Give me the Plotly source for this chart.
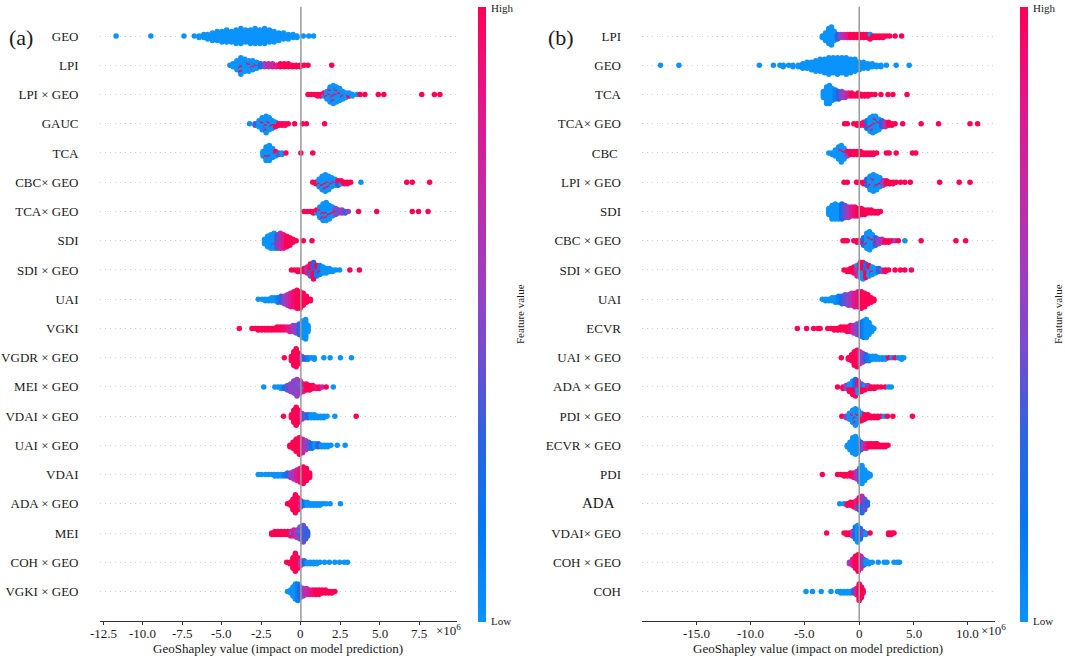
import plotly.graph_objects as go

# ---------------------------------------------------------------------------
# Data: each row is a list of (shap value [x1e6], number
# of stacked dots at that value, feature value 0=low .. 1=high)
# ---------------------------------------------------------------------------
labels_a = ["GEO", "LPI", "LPI × GEO", "GAUC", "TCA", "CBC× GEO", "TCA× GEO",
            "SDI", "SDI × GEO", "UAI", "VGKI", "VGDR × GEO", "MEI × GEO",
            "VDAI × GEO", "UAI × GEO", "VDAI", "ADA × GEO", "MEI", "COH × GEO",
            "VGKI × GEO"]

a_geo = [(-11.7, 1, 0), (-9.5, 1, 0), (-7.4, 1, 0), (-6.75, 1, 0), (-6.45, 2, 0), (-6.15, 3, 0),
         (-5.9, 4, 0), (-5.6, 6, 0), (-5.3, 7, 0), (-5.0, 8, 0), (-4.7, 9, 0), (-4.4, 8, 0),
         (-4.1, 10, 0), (-3.8, 11, 0), (-3.5, 9, 0), (-3.2, 10, 0), (-2.9, 11, 0), (-2.6, 10, 0),
         (-2.3, 11, 0), (-2.0, 9, 0), (-1.7, 8, 0), (-1.4, 6, 0), (-1.1, 5, 0), (-0.8, 4, 0),
         (-0.5, 3, 0), (-0.25, 2, 0), (0.15, 1, 0), (0.5, 1, 0), (0.8, 1, 0)]
a_lpi = [(-4.5, 1, 0), (-4.3, 3, 0), (-4.05, 7, 0), (-3.8, 10, 0), (-3.8, 2, 1), (-3.55, 9, 0),
         (-3.3, 7, 0), (-3.3, 1, 1), (-3.05, 6, 0), (-3.05, 1, 0.9), (-2.8, 4, 0), (-2.8, 1, 1),
         (-2.55, 3, 0.2), (-2.3, 3, 0.5), (-2.05, 3, 0.7), (-1.8, 3, 0.75), (-1.55, 2, 0.85),
         (-1.3, 3, 1), (-1.05, 3, 1), (-0.8, 3, 1), (-0.55, 2, 1), (-0.3, 2, 1), (-0.05, 2, 1),
         (0.2, 1, 1), (0.45, 1, 1), (1.95, 1, 1)]
a_lpi_geo = [(0.45, 1, 1), (0.65, 1, 1), (0.85, 1, 1), (1.05, 2, 1), (1.25, 2, 1), (1.45, 2, 0.9),
             (1.45, 1, 0), (1.65, 5, 0), (1.65, 1, 1), (1.85, 9, 0), (1.85, 2, 1), (2.05, 11, 0),
             (2.05, 2, 1), (2.25, 9, 0), (2.25, 2, 1), (2.45, 8, 0), (2.45, 1, 1), (2.65, 5, 0),
             (2.65, 1, 1), (2.85, 4, 0), (3.05, 2, 0), (3.05, 1, 1), (3.25, 2, 0), (3.55, 1, 0),
             (3.75, 1, 1), (4.05, 1, 1), (4.9, 1, 1), (5.25, 1, 1), (7.65, 1, 1), (8.45, 1, 1),
             (8.8, 1, 1)]
a_gauc = [(-3.25, 1, 0), (-2.9, 2, 0.35), (-2.65, 5, 0), (-2.45, 8, 0), (-2.45, 1, 1),
          (-2.2, 10, 0), (-2.2, 2, 1), (-2.0, 8, 0), (-2.0, 1, 1), (-1.8, 5, 0), (-1.8, 1, 1),
          (-1.6, 2, 0), (-1.6, 2, 1), (-1.4, 2, 1), (-1.2, 2, 1), (-1.0, 2, 1), (-0.8, 1, 1),
          (-0.4, 1, 1), (0.1, 1, 1), (0.35, 1, 1), (1.5, 1, 1)]
a_tca = [(-2.4, 4, 0), (-2.2, 9, 0), (-2.2, 1, 1), (-2.0, 10, 0), (-2.0, 1, 1), (-1.8, 7, 0),
         (-1.6, 3, 0), (-1.6, 1, 1), (-1.4, 2, 0.4), (-1.2, 2, 0), (-0.95, 1, 1), (0.0, 1, 1),
         (0.75, 1, 1)]
a_cbc_geo = [(0.75, 1, 1), (0.95, 2, 1), (1.15, 5, 0), (1.15, 1, 1), (1.35, 9, 0), (1.35, 1, 1),
             (1.55, 10, 0), (1.55, 2, 1), (1.75, 8, 0), (1.75, 2, 1), (1.95, 6, 0), (1.95, 1, 1),
             (2.15, 4, 0), (2.15, 1, 1), (2.35, 3, 0.3), (2.35, 1, 1), (2.55, 2, 1), (2.55, 1, 0),
             (2.75, 2, 1), (2.95, 2, 1), (3.15, 1, 1), (3.8, 1, 0), (6.7, 1, 1), (7.05, 1, 1),
             (8.15, 1, 1)]
a_tca_geo = [(0.2, 1, 1), (0.4, 1, 1), (0.6, 1, 1), (0.8, 2, 1), (1.0, 2, 1), (1.0, 1, 0),
             (1.2, 7, 0), (1.2, 1, 1), (1.4, 10, 0), (1.4, 2, 1), (1.6, 11, 0), (1.6, 2, 1),
             (1.8, 9, 0), (1.8, 1, 1), (2.0, 6, 0), (2.0, 1, 1), (2.2, 4, 0.5), (2.2, 1, 1),
             (2.4, 3, 0.4), (2.6, 3, 0.6), (2.8, 2, 0.3), (3.0, 1, 0.5), (3.65, 1, 1), (4.8, 1, 1),
             (7.05, 1, 1), (7.45, 1, 1), (8.05, 1, 1)]
a_sdi = [(-2.3, 4, 0), (-2.1, 8, 0), (-1.9, 10, 0), (-1.7, 10, 0), (-1.7, 1, 0.4), (-1.5, 8, 0.35),
         (-1.5, 2, 0.8), (-1.3, 9, 0.7), (-1.3, 2, 0.2), (-1.1, 10, 0.85), (-0.9, 8, 1),
         (-0.7, 6, 1), (-0.5, 3, 1), (-0.3, 1, 1), (0.15, 1, 1), (0.7, 1, 1)]
a_sdi_geo = [(-0.6, 1, 1), (-0.4, 1, 1), (-0.2, 2, 1), (0.0, 2, 1), (0.2, 3, 1), (0.4, 4, 0.8),
             (0.4, 1, 0), (0.6, 5, 1), (0.6, 4, 0.4), (0.8, 6, 0.3), (0.8, 6, 1), (1.0, 5, 0.1),
             (1.0, 3, 1), (1.2, 6, 0.1), (1.2, 1, 1), (1.4, 5, 0), (1.6, 4, 0), (1.8, 3, 0),
             (2.0, 2, 0), (2.2, 1, 0), (2.45, 1, 0), (3.1, 1, 1), (3.7, 1, 1)]
a_uai = [(-2.7, 1, 0), (-2.45, 1, 0), (-2.25, 2, 0), (-2.05, 2, 0), (-1.85, 3, 0), (-1.65, 3, 0),
         (-1.45, 4, 0.1), (-1.25, 5, 0.3), (-1.05, 6, 0.5), (-0.85, 8, 0.65), (-0.65, 10, 0.8),
         (-0.45, 11, 0.9), (-0.25, 13, 1), (-0.05, 12, 1), (0.15, 9, 1), (0.35, 5, 1), (0.6, 2, 1)]
a_vgki = [(-3.9, 1, 1), (-3.1, 1, 1), (-2.9, 1, 1), (-2.7, 2, 1), (-2.5, 2, 1), (-2.3, 2, 1),
          (-2.1, 2, 1), (-1.9, 2, 1), (-1.7, 2, 1), (-1.5, 3, 1), (-1.3, 3, 1), (-1.1, 3, 0.95),
          (-0.9, 3, 0.9), (-0.7, 4, 0.8), (-0.5, 5, 0.6), (-0.3, 6, 0.5), (-0.1, 8, 0.3),
          (0.1, 12, 0), (0.3, 14, 0), (0.45, 5, 0)]
a_vgdr_geo = [(-1.05, 1, 1), (-0.6, 4, 1), (-0.45, 10, 1), (-0.3, 13, 1), (-0.15, 8, 1),
              (0.05, 3, 0.5), (0.25, 2, 0.3), (0.45, 2, 0.1), (0.65, 1, 0), (0.85, 2, 0),
              (1.45, 1, 0), (1.85, 1, 0), (2.5, 1, 0), (3.2, 1, 0)]
a_mei_geo = [(-2.35, 1, 0), (-1.65, 1, 0), (-1.45, 1, 0), (-1.25, 2, 0), (-1.05, 2, 0.2),
             (-0.85, 4, 0.4), (-0.65, 6, 0.5), (-0.45, 9, 0.5), (-0.25, 12, 0.5), (-0.05, 7, 0.6),
             (-0.05, 2, 0), (0.15, 5, 0.8), (0.15, 1, 0), (0.35, 5, 1), (0.55, 4, 1), (0.75, 3, 1),
             (0.95, 2, 0.9), (1.15, 2, 1), (1.35, 1, 0.7), (1.6, 1, 1), (2.05, 1, 0)]
a_vdai_geo = [(-1.1, 1, 1), (-0.6, 3, 1), (-0.45, 9, 1), (-0.3, 13, 1), (-0.15, 9, 1),
              (0.05, 5, 0.7), (0.25, 3, 0.4), (0.45, 3, 0.2), (0.65, 3, 0), (0.85, 3, 0),
              (1.05, 2, 0), (1.25, 2, 0), (1.45, 2, 0), (1.65, 1, 0), (2.15, 1, 0), (3.5, 1, 1)]
a_uai_geo = [(-0.7, 2, 1), (-0.5, 5, 1), (-0.3, 9, 1), (-0.1, 12, 1), (0.1, 10, 0.8),
             (0.3, 7, 0.6), (0.5, 5, 0.4), (0.7, 4, 0.2), (0.9, 3, 0), (1.1, 3, 0.3), (1.3, 2, 0),
             (1.5, 2, 0), (1.7, 2, 0), (1.9, 1, 0), (2.3, 1, 0), (2.8, 1, 0)]
a_vdai = [(-2.7, 1, 0), (-2.5, 1, 0), (-2.25, 1, 0), (-2.05, 1, 0), (-1.85, 1, 0), (-1.65, 2, 0),
          (-1.45, 2, 0), (-1.25, 2, 0), (-1.05, 2, 0.1), (-0.85, 3, 0.3), (-0.65, 4, 0.5),
          (-0.45, 6, 0.6), (-0.25, 8, 0.8), (-0.05, 10, 0.9), (0.15, 12, 1), (0.35, 9, 1),
          (0.55, 4, 1)]
a_ada_geo = [(-0.85, 1, 1), (-0.65, 3, 1), (-0.5, 8, 1), (-0.35, 13, 1), (-0.2, 9, 1),
             (0.0, 4, 0.6), (0.0, 1, 1), (0.2, 3, 0.2), (0.4, 3, 0), (0.6, 2, 0), (0.8, 2, 0),
             (1.0, 2, 0), (1.2, 2, 0), (1.4, 1, 0), (1.6, 1, 0), (1.85, 1, 0), (2.5, 1, 0)]
a_mei = [(-1.85, 2, 1), (-1.65, 3, 1), (-1.45, 3, 1), (-1.25, 3, 1), (-1.05, 3, 1), (-0.85, 3, 1),
         (-0.55, 1, 0), (-0.65, 4, 0.9), (-0.45, 5, 0.8), (-0.25, 6, 0.6), (-0.05, 8, 0.4),
         (-0.05, 1, 0), (0.15, 12, 0.4), (0.3, 8, 0.35), (0.42, 4, 0.3)]
a_coh_geo = [(-0.9, 1, 1), (-0.7, 2, 1), (-0.5, 8, 1), (-0.35, 13, 1), (-0.2, 8, 1),
             (0.0, 4, 0.6), (0.2, 3, 0.3), (0.4, 2, 0), (0.6, 2, 0), (0.8, 2, 0), (1.0, 2, 0),
             (1.2, 1, 0), (1.5, 1, 0), (1.8, 1, 0), (2.15, 1, 0), (2.45, 1, 0), (2.75, 1, 0),
             (2.95, 1, 0)]
a_vgki_geo = [(-0.85, 1, 0), (-0.65, 3, 0), (-0.5, 7, 0), (-0.35, 11, 0), (-0.2, 12, 0.1),
              (-0.05, 8, 0.3), (0.15, 6, 0.5), (0.35, 5, 0.7), (0.55, 4, 0.8), (0.75, 4, 0.9),
              (0.95, 4, 1), (1.15, 4, 1), (1.35, 3, 1), (1.55, 3, 1), (1.75, 2, 1), (1.95, 2, 1),
              (2.15, 1, 1)]

labels_b = ["LPI", "GEO", "TCA", "TCA× GEO", "CBC\u00a0", "LPI × GEO", "SDI", "CBC × GEO",
            "SDI × GEO", "UAI", "ECVR", "UAI × GEO", "ADA × GEO", "PDI × GEO", "ECVR × GEO",
            "PDI", "<span style='font-size:15px'>ADA</span>\u00a0\u00a0", "VDAI× GEO",
            "COH × GEO", "COH"]

b_lpi = [(-3.4, 2, 0), (-3.1, 6, 0), (-2.8, 11, 0), (-2.55, 13, 0), (-2.3, 7, 0), (-2.0, 4, 0.3),
         (-1.7, 3, 0.5), (-1.4, 3, 0.7), (-1.1, 3, 0.85), (-0.8, 3, 1), (-0.5, 3, 1), (-0.2, 3, 1),
         (0.1, 3, 1), (0.4, 3, 1), (0.7, 3, 1), (1.0, 3, 1), (1.0, 1, 0), (1.3, 2, 1), (1.6, 2, 1),
         (1.9, 2, 1), (2.2, 2, 1), (2.5, 1, 1), (2.8, 1, 1), (3.3, 1, 1), (3.9, 1, 1)]
b_geo = [(-18.3, 1, 0), (-16.6, 1, 0), (-9.2, 1, 0), (-7.9, 1, 0), (-7.3, 1, 0), (-7.0, 2, 0),
         (-6.5, 1, 0), (-6.1, 2, 0), (-5.6, 2, 0), (-5.2, 4, 0), (-4.8, 5, 0), (-4.4, 6, 0),
         (-4.0, 8, 0), (-3.6, 9, 0), (-3.2, 10, 0), (-2.8, 12, 0), (-2.4, 11, 0), (-2.0, 12, 0),
         (-1.6, 11, 0), (-1.2, 12, 0), (-0.8, 10, 0), (-0.4, 9, 0), (0.0, 6, 0), (0.4, 5, 0),
         (0.8, 4, 0), (1.2, 3, 0), (1.6, 2, 0), (2.0, 2, 0), (2.5, 1, 0), (3.4, 1, 0), (4.6, 1, 0)]
b_tca = [(-3.3, 5, 0), (-3.0, 12, 0), (-2.75, 13, 0), (-2.5, 9, 0), (-2.2, 7, 0.1),
         (-1.9, 6, 0.3), (-1.6, 5, 0.5), (-1.3, 4, 0.6), (-1.0, 3, 0.8), (-0.7, 3, 1),
         (-0.4, 2, 1), (-0.1, 3, 1), (0.2, 2, 1), (0.5, 2, 1), (0.8, 2, 1), (1.1, 1, 1),
         (1.45, 1, 1), (2.0, 1, 1), (2.65, 1, 1), (3.1, 1, 1), (4.4, 1, 1)]
b_tca_geo = [(-1.35, 1, 1), (-1.1, 1, 1), (-0.5, 1, 1), (-0.2, 2, 1), (0.1, 2, 1), (0.4, 3, 0.9),
             (0.7, 5, 0.2), (0.7, 1, 1), (1.0, 9, 0), (1.0, 1, 1), (1.25, 10, 0), (1.25, 2, 1),
             (1.5, 9, 0), (1.5, 2, 1), (1.8, 7, 0), (1.8, 1, 1), (2.1, 5, 0.3), (2.4, 4, 0.6),
             (2.7, 3, 1), (3.0, 2, 1), (3.3, 1, 1), (4.0, 1, 1), (5.7, 1, 1), (7.3, 1, 1),
             (10.2, 1, 1), (10.9, 1, 1)]
b_cbc = [(-2.8, 1, 0), (-2.5, 2, 0), (-2.2, 5, 0), (-1.9, 9, 0), (-1.65, 11, 0), (-1.65, 1, 1),
         (-1.4, 7, 0), (-1.4, 1, 1), (-1.1, 3, 0.5), (-1.1, 1, 1), (-0.8, 3, 1), (-0.5, 3, 1),
         (-0.2, 3, 1), (0.1, 3, 1), (0.4, 2, 1), (0.7, 2, 1), (1.0, 2, 1), (1.3, 2, 1),
         (1.6, 1, 1), (2.5, 1, 1), (2.75, 1, 1), (3.4, 1, 1), (4.9, 1, 1), (5.2, 1, 1)]
b_lpi_geo = [(-1.4, 1, 1), (-1.1, 1, 1), (-0.25, 1, 1), (0.0, 1, 1), (0.4, 2, 1), (0.7, 4, 0.3),
             (0.7, 1, 1), (1.0, 9, 0), (1.0, 1, 1), (1.3, 11, 0), (1.3, 1, 1), (1.6, 9, 0),
             (1.6, 1, 1), (1.9, 6, 0), (1.9, 1, 1), (2.2, 4, 0.5), (2.5, 3, 1), (2.8, 2, 1),
             (3.1, 2, 1), (3.4, 1, 1), (3.8, 1, 1), (4.2, 1, 1), (4.7, 1, 1), (7.4, 1, 1),
             (9.2, 1, 1), (10.2, 1, 1)]
b_sdi = [(-2.8, 5, 0), (-2.5, 10, 0), (-2.2, 11, 0), (-1.9, 10, 0), (-1.6, 11, 0.2),
         (-1.3, 9, 0.4), (-1.0, 8, 0.6), (-0.7, 7, 0.8), (-0.4, 7, 0.9), (-0.1, 6, 1),
         (0.2, 5, 1), (0.5, 4, 1), (0.8, 3, 1), (1.1, 3, 1), (1.4, 2, 1), (1.7, 2, 1),
         (1.95, 1, 1)]
b_cbc_geo = [(-1.5, 1, 1), (-1.3, 1, 1), (-1.1, 1, 1), (-0.5, 1, 1), (-0.2, 2, 1), (0.1, 2, 0.7),
             (0.4, 5, 0.2), (0.4, 1, 1), (0.7, 10, 0), (0.7, 1, 1), (0.95, 12, 0), (0.95, 1, 1),
             (1.2, 8, 0), (1.2, 1, 1), (1.5, 5, 0.3), (1.5, 1, 1), (1.8, 4, 0.5), (2.1, 3, 0.7),
             (2.4, 2, 1), (2.7, 2, 1), (3.0, 1, 1), (3.3, 1, 0.6), (3.6, 1, 1), (4.2, 1, 0),
             (5.7, 1, 1), (8.9, 1, 1), (9.8, 1, 1)]
b_sdi_geo = [(-1.4, 1, 1), (-1.1, 2, 1), (-0.8, 3, 1), (-0.5, 5, 1), (-0.2, 6, 0.8),
             (-0.2, 2, 0), (0.1, 6, 1), (0.1, 5, 0), (0.35, 6, 1), (0.35, 6, 0), (0.6, 5, 0.2),
             (0.6, 5, 1), (0.9, 5, 0), (0.9, 3, 1), (1.2, 5, 0), (1.2, 1, 1), (1.5, 4, 0),
             (1.8, 3, 0.3), (2.1, 2, 0.5), (2.4, 2, 1), (2.7, 1, 1), (3.3, 1, 1), (3.8, 1, 1),
             (4.2, 1, 1), (4.8, 1, 1)]
b_uai = [(-3.4, 1, 0), (-3.1, 2, 0), (-2.8, 2, 0), (-2.5, 3, 0), (-2.2, 4, 0), (-1.9, 5, 0.1),
         (-1.6, 6, 0.2), (-1.3, 7, 0.4), (-1.0, 8, 0.5), (-0.7, 9, 0.65), (-0.4, 10, 0.8),
         (-0.1, 11, 0.9), (0.2, 12, 1), (0.5, 10, 1), (0.8, 7, 1), (1.1, 4, 1), (1.35, 2, 1)]
b_ecvr = [(-5.7, 1, 1), (-4.85, 1, 1), (-4.2, 1, 1), (-3.8, 1, 1), (-3.6, 1, 1), (-2.9, 1, 1),
          (-2.6, 1, 1), (-2.3, 2, 1), (-2.0, 2, 1), (-1.7, 3, 1), (-1.4, 3, 1), (-1.1, 4, 1),
          (-0.8, 5, 0.9), (-0.5, 6, 0.7), (-0.2, 8, 0.5), (0.1, 10, 0.3), (0.4, 12, 0.1),
          (0.65, 13, 0), (0.9, 9, 0), (1.15, 4, 0), (1.35, 1, 0)]
b_uai_geo = [(-1.65, 1, 1), (-1.0, 2, 1), (-0.7, 5, 1), (-0.45, 10, 1), (-0.2, 12, 1),
             (0.05, 9, 0.8), (0.3, 7, 0.5), (0.6, 5, 0.3), (0.9, 4, 0.1), (1.2, 3, 0),
             (1.5, 3, 0), (1.8, 2, 0), (2.1, 2, 0), (2.4, 2, 0), (2.7, 1, 1), (3.0, 1, 0),
             (3.3, 1, 1), (3.6, 1, 0), (3.9, 2, 0), (4.1, 1, 0)]
b_ada_geo = [(-2.0, 1, 1), (-1.5, 2, 1), (-1.2, 3, 0.5), (-0.9, 3, 0), (-0.9, 3, 1), (-0.6, 5, 0),
             (-0.6, 5, 1), (-0.35, 6, 0.2), (-0.35, 6, 1), (-0.1, 4, 0), (-0.1, 5, 0.9),
             (0.2, 3, 0.4), (0.2, 3, 1), (0.5, 2, 0), (0.5, 2, 1), (0.8, 2, 0.6), (0.8, 1, 1),
             (1.1, 2, 1), (1.4, 2, 1), (1.7, 1, 1), (2.0, 1, 1), (2.4, 1, 1), (2.7, 1, 0),
             (2.95, 1, 0)]
b_pdi_geo = [(-1.6, 1, 1), (-1.2, 2, 0.5), (-0.9, 5, 0), (-0.6, 8, 0), (-0.6, 1, 1),
             (-0.35, 10, 0), (-0.35, 2, 1), (-0.1, 8, 0), (-0.1, 1, 1), (0.2, 3, 0), (0.2, 3, 1),
             (0.5, 4, 1), (0.8, 3, 1), (1.1, 2, 1), (1.4, 2, 1), (1.7, 2, 1), (2.0, 1, 1),
             (2.3, 1, 0), (2.6, 1, 1), (3.1, 1, 1), (4.9, 1, 1)]
b_ecvr_geo = [(-1.1, 2, 0), (-0.85, 6, 0), (-0.6, 11, 0), (-0.35, 13, 0), (-0.1, 10, 0),
              (0.15, 6, 0.3), (0.4, 4, 0.5), (0.65, 4, 0.8), (0.9, 3, 1), (1.15, 3, 1),
              (1.4, 3, 1), (1.65, 3, 1), (1.9, 2, 1), (2.15, 2, 1), (2.4, 2, 1), (2.65, 1, 1)]
b_pdi = [(-3.4, 1, 1), (-2.0, 1, 1), (-1.7, 1, 1), (-1.4, 2, 1), (-1.1, 2, 1), (-0.8, 3, 1),
         (-0.5, 4, 0.9), (-0.2, 6, 0.6), (0.05, 10, 0.2), (0.25, 13, 0), (0.5, 8, 0),
         (0.75, 4, 0), (1.0, 2, 0)]
b_ada = [(-1.8, 1, 0), (-1.4, 1, 0), (-1.1, 2, 1), (-0.8, 3, 1), (-0.5, 4, 1), (-0.25, 6, 0.8),
         (0.0, 5, 1), (0.0, 4, 0.3), (0.25, 6, 0.7), (0.25, 6, 0.2), (0.5, 8, 0.4),
         (0.75, 3, 0.3)]
b_vdai_geo = [(-3.0, 1, 1), (-1.4, 1, 1), (-1.15, 2, 1), (-0.9, 2, 1), (-0.6, 4, 0.6),
              (-0.35, 9, 0.2), (-0.15, 12, 0), (0.1, 8, 0.2), (0.35, 3, 0.4), (0.6, 2, 0),
              (1.0, 1, 1), (2.7, 2, 1), (2.95, 2, 1), (3.2, 1, 1)]
b_coh_geo = [(-0.9, 2, 0.6), (-0.6, 5, 0.8), (-0.35, 9, 1), (-0.1, 12, 1), (0.15, 9, 0.8),
             (0.4, 5, 0.4), (0.65, 3, 0), (0.9, 2, 0), (1.2, 1, 0), (1.75, 1, 0), (2.3, 1, 0),
             (2.55, 1, 0), (3.2, 1, 0), (3.5, 1, 0), (3.7, 1, 0)]
b_coh = [(-4.9, 1, 0), (-4.3, 1, 0), (-3.5, 1, 0), (-2.6, 1, 0), (-2.0, 1, 0), (-1.7, 2, 0),
         (-1.4, 2, 0), (-1.1, 2, 0), (-0.8, 2, 0), (-0.5, 3, 0.3), (-0.25, 5, 0.8),
         (0.0, 12, 1), (0.2, 8, 1), (0.35, 3, 1)]

rows_a = [a_geo, a_lpi, a_lpi_geo, a_gauc, a_tca, a_cbc_geo, a_tca_geo, a_sdi, a_sdi_geo,
          a_uai, a_vgki, a_vgdr_geo, a_mei_geo, a_vdai_geo, a_uai_geo, a_vdai, a_ada_geo,
          a_mei, a_coh_geo, a_vgki_geo]
rows_b = [b_lpi, b_geo, b_tca, b_tca_geo, b_cbc, b_lpi_geo, b_sdi, b_cbc_geo, b_sdi_geo,
          b_uai, b_ecvr, b_uai_geo, b_ada_geo, b_pdi_geo, b_ecvr_geo, b_pdi, b_ada,
          b_vdai_geo, b_coh_geo, b_coh]

ticks_a = [-12.5, -10, -7.5, -5, -2.5, 0, 2.5, 5, 7.5]
ticktext_a = ["-12.5", "-10.0", "-7.5", "-5.0", "-2.5", "0", "2.5", "5.0", "7.5"]
ticks_b = [-15, -10, -5, 0, 5, 10]
ticktext_b = ["-15.0", "-10.0", "-5.0", "0", "5.0", "10.0"]

# ---------------------------------------------------------------------------
W, H = 1065, 656
FONT = "Liberation Serif"
INK = "#1a1a1a"
ROW_PX = 29.25
STEP = 1.5 / ROW_PX          # vertical gap between stacked dots (row units)

# shap red_blue style colormap
CSCALE = [[0.0, "#0a93fb"], [0.15, "#0577f1"], [0.3, "#2d63e2"], [0.45, "#7a4bcf"],
          [0.55, "#9b3fc2"], [0.7, "#c32aa6"], [0.85, "#e6158a"], [1.0, "#ff0055"]]


def swarm(rows):
    """stack dots sharing a value above / below the row centre"""
    xs, ys, cs = [], [], []
    for i, row in enumerate(rows):
        cols = {}
        for x, n, c in row:
            cols.setdefault(x, []).append((n, c))
        for x in sorted(cols):
            pts = []
            for n, c in cols[x]:
                pts += [((k + 0.5) / n, c) for k in range(n)]
            pts.sort(key=lambda p: p[0])
            for k, (_, c) in enumerate(pts):
                off = (k + 1) // 2 * (1 if k % 2 else -1)
                xs.append(x)
                ys.append(i + off * STEP)
                cs.append(c)
    return xs, ys, cs


def px(x):
    return x / W


def py(y):
    return 1 - y / H


Y_DOM = [py(620.8), py(6.8)]
XA_DOM = [px(99.5), px(456.5)]
XB_DOM = [px(642.0), px(995.0)]

fig = go.Figure()
for rows, xa, ya, cax in [(rows_a, "x", "y", "coloraxis"), (rows_b, "x2", "y2", "coloraxis2")]:
    xs, ys, cs = swarm(rows)
    fig.add_trace(go.Scatter(
        x=xs, y=ys, mode="markers", xaxis=xa, yaxis=ya, hoverinfo="skip",
        marker=dict(size=5.5, color=cs, coloraxis=cax, line=dict(width=0)),
        showlegend=False,
    ))


def xaxis(dom, rng, tv, anchor):
    return dict(domain=dom, range=rng, tickvals=tv, showticklabels=False, showgrid=False,
                zeroline=False, showline=True, linecolor="#333333", linewidth=1,
                ticks="outside", ticklen=3.5, tickcolor="#333333", anchor=anchor,
                automargin=False)


def yaxis(labels, anchor):
    return dict(domain=Y_DOM, range=[20, -1], tickvals=list(range(len(labels))),
                ticktext=labels, showgrid=True, gridcolor="#cfcfcf", gridwidth=1,
                griddash="1px,4px", zeroline=False, showline=False, ticks="", ticklen=0,
                ticklabelstandoff=20, tickfont=dict(family=FONT, size=13, color=INK),
                anchor=anchor, automargin=False)


def cbar(x0):
    return dict(x=px(x0), xanchor="left", thickness=8, thicknessmode="pixels",
                len=(622 - 7) / H, lenmode="fraction", y=py((622 + 7) / 2),
                yanchor="middle", outlinewidth=0, showticklabels=False, ticks="",
                xpad=0, ypad=0)


fig.update_layout(
    width=W, height=H,
    margin=dict(l=0, r=0, t=0, b=0, pad=0, autoexpand=False),
    paper_bgcolor="white", plot_bgcolor="white",
    xaxis=xaxis(XA_DOM, [-12.75, 9.85], ticks_a, "y"),
    yaxis=yaxis(labels_a, "x"),
    xaxis2=xaxis(XB_DOM, [-20.0, 12.5], ticks_b, "y2"),
    yaxis2=yaxis(labels_b, "x2"),
    coloraxis=dict(colorscale=CSCALE, cmin=0, cmax=1, colorbar=cbar(478)),
    coloraxis2=dict(colorscale=CSCALE, cmin=0, cmax=1, colorbar=cbar(1020)),
    font=dict(family=FONT, color=INK),
)

# zero lines
for xr in ["x", "x2"]:
    fig.add_shape(type="line", xref=xr, yref="paper", x0=0, x1=0, y0=Y_DOM[0], y1=Y_DOM[1],
                  line=dict(color="#999999", width=1.5), layer="above")


def note(text, x, y, size=13, xanchor="center", xref="paper"):
    fig.add_annotation(text=text, x=x if xref != "paper" else px(x), y=py(y),
                       xref=xref, yref="paper", xanchor=xanchor, yanchor="middle",
                       showarrow=False, font=dict(family=FONT, size=size, color=INK))


# x tick labels, placed on the axis scale
for xr, tv, tt in [("x", ticks_a, ticktext_a), ("x2", ticks_b, ticktext_b)]:
    for v, t in zip(tv, tt):
        note(t, v, 633, xref=xr)

note("(a)", 21, 37, size=22)
note("(b)", 561, 37, size=22)
for cb_x, fv_x in [(489, 520), (1031, 1058)]:
    note("High", cb_x, 8, size=11, xanchor="left")
    note("Low", cb_x, 621, size=11, xanchor="left")
    fig.add_annotation(text="Feature value", x=px(fv_x), y=py(314), xref="paper",
                       yref="paper", textangle=-90, showarrow=False,
                       xanchor="center", yanchor="middle",
                       font=dict(family=FONT, size=11, color=INK))
note("×10<sup>6</sup>", 463, 630, xanchor="right")
note("×10<sup>6</sup>", 1008, 630, xanchor="right")
note("GeoShapley value (impact on model prediction)", 278, 648)
note("GeoShapley value (impact on model prediction)", 818, 648)

# the page body has a default 8px margin; drop it so the figure fills the window
fig.write_html("out.html", config={"displayModeBar": False},
               post_script="document.body.style.margin = '0';")
